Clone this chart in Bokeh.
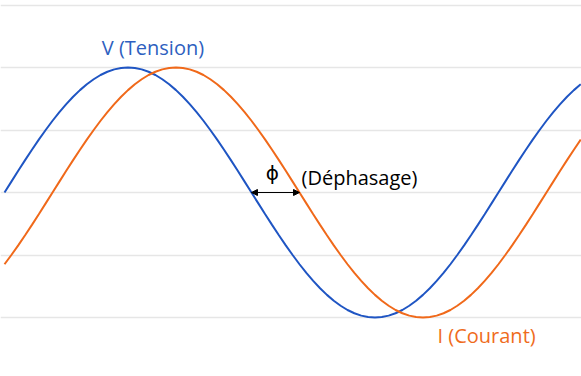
from bokeh.plotting import figure
from bokeh.models import ColumnDataSource, Arrow, NormalHead, Range1d, FixedTicker, Label
from bokeh.embed import file_html
from bokeh.resources import INLINE

# Angle (degrees) and normalised signals
angle = list(range(0, 425, 5))
tension = [0.0, 0.087, 0.174, 0.259, 0.342, 0.423, 0.5, 0.574, 0.643, 0.707, 0.766, 0.819,
           0.866, 0.906, 0.940, 0.966, 0.985, 0.996, 1.0,
           0.996, 0.985, 0.966, 0.940, 0.906, 0.866, 0.819, 0.766, 0.707, 0.643, 0.574, 0.5,
           0.423, 0.342, 0.259, 0.174, 0.087, 0.0,
           -0.087, -0.174, -0.259, -0.342, -0.423, -0.5, -0.574, -0.643, -0.707, -0.766,
           -0.819, -0.866, -0.906, -0.940, -0.966, -0.985, -0.996, -1.0,
           -0.996, -0.985, -0.966, -0.940, -0.906, -0.866, -0.819, -0.766, -0.707, -0.643,
           -0.574, -0.5, -0.423, -0.342, -0.259, -0.174, -0.087, 0.0,
           0.087, 0.174, 0.259, 0.342, 0.423, 0.5, 0.574, 0.643, 0.707, 0.766, 0.819, 0.866]
courant = [-0.574, -0.5, -0.423, -0.342, -0.259, -0.174, -0.087,
           0.0, 0.087, 0.174, 0.259, 0.342, 0.423, 0.5, 0.574, 0.643, 0.707, 0.766, 0.819,
           0.866, 0.906, 0.940, 0.966, 0.985, 0.996, 1.0,
           0.996, 0.985, 0.966, 0.940, 0.906, 0.866, 0.819, 0.766, 0.707, 0.643, 0.574, 0.5,
           0.423, 0.342, 0.259, 0.174, 0.087, 0.0,
           -0.087, -0.174, -0.259, -0.342, -0.423, -0.5, -0.574, -0.643, -0.707, -0.766,
           -0.819, -0.866, -0.906, -0.940, -0.966, -0.985, -0.996, -1.0,
           -0.996, -0.985, -0.966, -0.940, -0.906, -0.866, -0.819, -0.766, -0.707, -0.643,
           -0.574, -0.5, -0.423, -0.342, -0.259, -0.174, -0.087, 0.0,
           0.087, 0.174, 0.259, 0.342, 0.423]
grid_levels = [-1.0, -0.5, 0.0, 0.5, 1.0, 1.5]
phase_start = 180   # zero crossing of V (degrees)
phase_end = 215     # zero crossing of I (degrees)

BLUE = "#1f55c3"
ORANGE = "#f0691a"

src = ColumnDataSource(dict(angle=angle, tension=tension, courant=courant))

p = figure(width=581, height=376, output_backend="svg", toolbar_location=None,
           x_range=Range1d(-2.92, 420.55), y_range=Range1d(-1.472, 1.536),
           min_border=0, outline_line_color=None)
p.xaxis.visible = False
p.yaxis.visible = False
p.xgrid.visible = False
p.ygrid.ticker = FixedTicker(ticks=grid_levels)
p.ygrid.grid_line_color = "#e6e6e6"
p.ygrid.grid_line_width = 1.5
p.background_fill_color = "white"
p.border_fill_color = "white"

p.line("angle", "tension", source=src, line_color=BLUE, line_width=2)
p.line("angle", "courant", source=src, line_color=ORANGE, line_width=2)

p.add_layout(Arrow(x_start=phase_start, y_start=0, x_end=phase_end, y_end=0,
                   line_color="black", line_width=1.2,
                   start=NormalHead(size=6, fill_color="black", line_color="black"),
                   end=NormalHead(size=6, fill_color="black", line_color="black")))

FONT = "Open Sans"
p.add_layout(Label(x=108.2, y=1.16, text="V (Tension)", text_color="#2e5fc0",
                   text_font=FONT, text_font_size="20px", text_align="center",
                   text_baseline="alphabetic"))
p.add_layout(Label(x=315.6, y=-1.144, text="I (Courant)", text_color="#ef6c1c",
                   text_font=FONT, text_font_size="20px", text_align="left",
                   text_baseline="alphabetic"))
p.add_layout(Label(x=216.5, y=0.12, text="(Déphasage)", text_color="black",
                   text_font=FONT, text_font_size="20px", text_align="left",
                   text_baseline="alphabetic"))
p.add_layout(Label(x=195.3, y=0.16, text="ϕ", text_color="black",
                   text_font="DejaVu Sans", text_font_size="20px", text_align="center",
                   text_baseline="middle"))

open("out.html", "w").write(file_html(p, INLINE))
